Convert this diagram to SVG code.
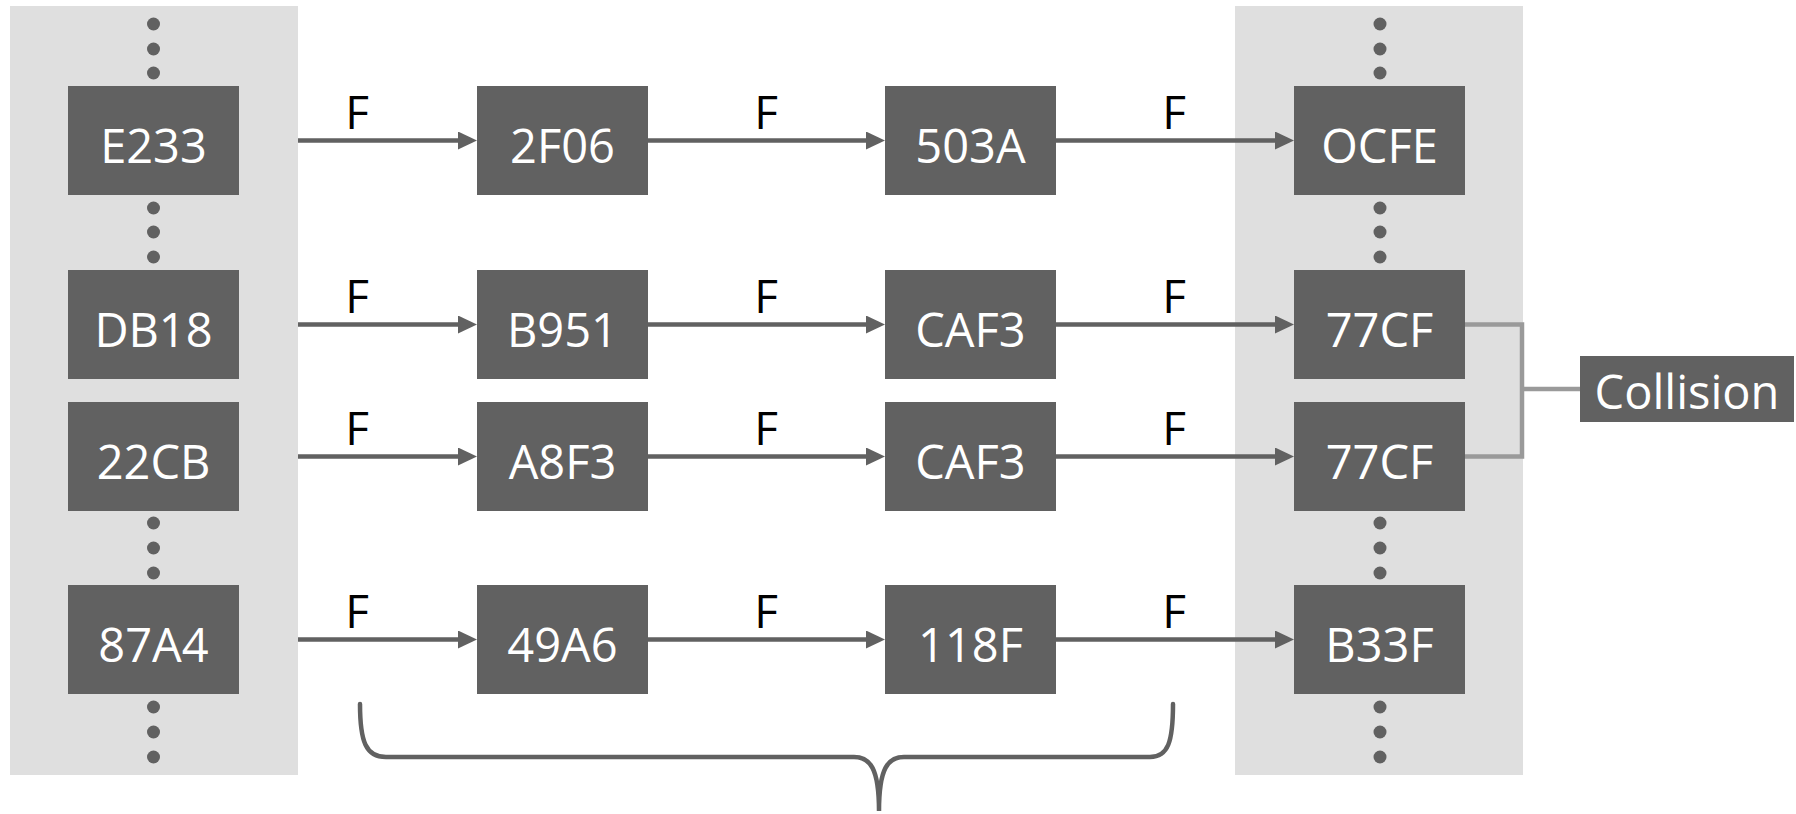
<svg xmlns="http://www.w3.org/2000/svg" width="1796" height="814" viewBox="0 0 1796 814">
<defs>
<style>
.panel{fill:#dfdfdf}
.box{fill:#616161}
.bt{fill:#ffffff;font-family:"Open Sans","Noto Sans",sans-serif;font-size:47px;text-anchor:middle}
.lbl{fill:#000000;font-family:"Open Sans","Noto Sans",sans-serif;font-size:46px;text-anchor:middle}
.dot{fill:#616161}
.arr{stroke:#616161;stroke-width:4.5;fill:none;marker-end:url(#ah)}
.col{stroke:#9a9a9a;stroke-width:4.5;fill:none}
.brace{stroke:#616161;stroke-width:4.5;fill:none;stroke-linecap:round}
</style>
<marker id="ah" markerUnits="userSpaceOnUse" markerWidth="20" markerHeight="20" refX="4" refY="9" orient="auto">
<path d="M0,0 L19,9 L0,18 z" fill="#616161"/>
</marker>
</defs>
<rect width="1796" height="814" fill="#ffffff"/>
<g id="panel-left">
<rect class="panel" x="10" y="6" width="288" height="769"/>
<circle class="dot" cx="153.5" cy="24" r="6.5"/><circle class="dot" cx="153.5" cy="49" r="6.5"/><circle class="dot" cx="153.5" cy="73" r="6.5"/>
<circle class="dot" cx="153.5" cy="208" r="6.5"/><circle class="dot" cx="153.5" cy="232" r="6.5"/><circle class="dot" cx="153.5" cy="257" r="6.5"/>
<circle class="dot" cx="153.5" cy="523" r="6.5"/><circle class="dot" cx="153.5" cy="548" r="6.5"/><circle class="dot" cx="153.5" cy="573" r="6.5"/>
<circle class="dot" cx="153.5" cy="707" r="6.5"/><circle class="dot" cx="153.5" cy="732" r="6.5"/><circle class="dot" cx="153.5" cy="757" r="6.5"/>
</g>
<g id="panel-right">
<rect class="panel" x="1235" y="6" width="288" height="769"/>
<circle class="dot" cx="1380" cy="24" r="6.5"/><circle class="dot" cx="1380" cy="49" r="6.5"/><circle class="dot" cx="1380" cy="73" r="6.5"/>
<circle class="dot" cx="1380" cy="208" r="6.5"/><circle class="dot" cx="1380" cy="232" r="6.5"/><circle class="dot" cx="1380" cy="257" r="6.5"/>
<circle class="dot" cx="1380" cy="523" r="6.5"/><circle class="dot" cx="1380" cy="548" r="6.5"/><circle class="dot" cx="1380" cy="573" r="6.5"/>
<circle class="dot" cx="1380" cy="707" r="6.5"/><circle class="dot" cx="1380" cy="732" r="6.5"/><circle class="dot" cx="1380" cy="757" r="6.5"/>
</g>
<g id="connectors">
<line class="arr" x1="298" y1="140.5" x2="462" y2="140.5"/>
<line class="arr" x1="648" y1="140.5" x2="870" y2="140.5"/>
<line class="arr" x1="1056" y1="140.5" x2="1279" y2="140.5"/>
<line class="arr" x1="298" y1="324.5" x2="462" y2="324.5"/>
<line class="arr" x1="648" y1="324.5" x2="870" y2="324.5"/>
<line class="arr" x1="1056" y1="324.5" x2="1279" y2="324.5"/>
<line class="arr" x1="298" y1="456.5" x2="462" y2="456.5"/>
<line class="arr" x1="648" y1="456.5" x2="870" y2="456.5"/>
<line class="arr" x1="1056" y1="456.5" x2="1279" y2="456.5"/>
<line class="arr" x1="298" y1="639.5" x2="462" y2="639.5"/>
<line class="arr" x1="648" y1="639.5" x2="870" y2="639.5"/>
<line class="arr" x1="1056" y1="639.5" x2="1279" y2="639.5"/>
<path class="col" d="M1465,324.5 H1522 V456.5 H1465 M1522,389 H1580"/>
<path class="brace" d="M360,704 C360,742 366,757 386,757 L854,757 C870,757 879,768 879,811 C879,768 888,757 904,757 L1150,757 C1168,757 1173,742 1173,704"/>
</g>
<g id="labels">
<text class="lbl" x="357" y="129">F</text><text class="lbl" x="766" y="129">F</text><text class="lbl" x="1174" y="129">F</text>
<text class="lbl" x="357" y="313">F</text><text class="lbl" x="766" y="313">F</text><text class="lbl" x="1174" y="313">F</text>
<text class="lbl" x="357" y="445">F</text><text class="lbl" x="766" y="445">F</text><text class="lbl" x="1174" y="445">F</text>
<text class="lbl" x="357" y="628">F</text><text class="lbl" x="766" y="628">F</text><text class="lbl" x="1174" y="628">F</text>
</g>
<g id="n-E233"><rect class="box" x="68" y="86" width="171" height="109"/><text class="bt" x="153.5" y="163">E233</text></g>
<g id="n-2F06"><rect class="box" x="477" y="86" width="171" height="109"/><text class="bt" x="562.5" y="163">2F06</text></g>
<g id="n-503A"><rect class="box" x="885" y="86" width="171" height="109"/><text class="bt" x="970.5" y="163">503A</text></g>
<g id="n-OCFE"><rect class="box" x="1294" y="86" width="171" height="109"/><text class="bt" x="1379.5" y="163">OCFE</text></g>
<g id="n-DB18"><rect class="box" x="68" y="270" width="171" height="109"/><text class="bt" x="153.5" y="347">DB18</text></g>
<g id="n-B951"><rect class="box" x="477" y="270" width="171" height="109"/><text class="bt" x="562.5" y="347">B951</text></g>
<g id="n-CAF3a"><rect class="box" x="885" y="270" width="171" height="109"/><text class="bt" x="970.5" y="347">CAF3</text></g>
<g id="n-77CFa"><rect class="box" x="1294" y="270" width="171" height="109"/><text class="bt" x="1379.5" y="347">77CF</text></g>
<g id="n-22CB"><rect class="box" x="68" y="402" width="171" height="109"/><text class="bt" x="153.5" y="479">22CB</text></g>
<g id="n-A8F3"><rect class="box" x="477" y="402" width="171" height="109"/><text class="bt" x="562.5" y="479">A8F3</text></g>
<g id="n-CAF3b"><rect class="box" x="885" y="402" width="171" height="109"/><text class="bt" x="970.5" y="479">CAF3</text></g>
<g id="n-77CFb"><rect class="box" x="1294" y="402" width="171" height="109"/><text class="bt" x="1379.5" y="479">77CF</text></g>
<g id="n-87A4"><rect class="box" x="68" y="585" width="171" height="109"/><text class="bt" x="153.5" y="662">87A4</text></g>
<g id="n-49A6"><rect class="box" x="477" y="585" width="171" height="109"/><text class="bt" x="562.5" y="662">49A6</text></g>
<g id="n-118F"><rect class="box" x="885" y="585" width="171" height="109"/><text class="bt" x="970.5" y="662">118F</text></g>
<g id="n-B33F"><rect class="box" x="1294" y="585" width="171" height="109"/><text class="bt" x="1379.5" y="662">B33F</text></g>
<g id="n-Collision"><rect class="box" x="1580" y="356" width="214" height="66"/><text class="bt" x="1687" y="409">Collision</text></g>
</svg>
